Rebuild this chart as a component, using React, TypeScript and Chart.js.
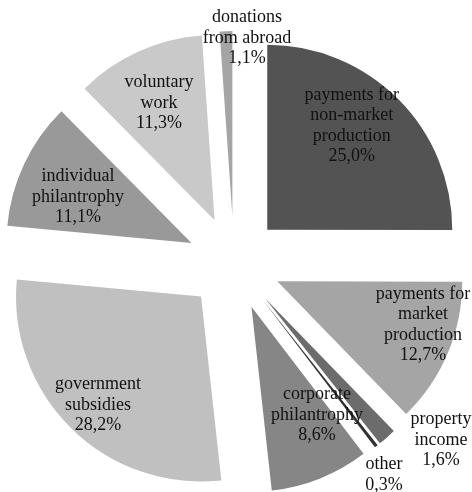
import React, { useEffect, useRef } from "react";
import { Chart, registerables } from "chart.js";

Chart.register(...registerables);

const categories: string[] = [
  "payments for\nnon-market\nproduction",
  "payments for\nmarket\nproduction",
  "property\nincome",
  "other",
  "corporate\nphilantrophy",
  "government\nsubsidies",
  "individual\nphilantrophy",
  "voluntary\nwork",
  "donations\nfrom abroad",
];
const shares: number[] = [25.0, 12.7, 1.6, 0.3, 8.6, 28.2, 11.1, 11.3, 1.1];
const sliceColors: string[] = [
  "#535353",
  "#a5a5a5",
  "#6c6c6c",
  "#333333",
  "#868686",
  "#c0c0c0",
  "#999999",
  "#c9c9c9",
  "#a5a5a5",
];
// label placement: angular shift from slice middle (deg, clockwise) and distance (fraction of radius) from the slice tip
const labelShift: number[] = [-5.9, -6.3, -9.9, 3.1, -9.3, -1.0, -3.3, -1.1, 6.7];
const labelDist: number[] = [0.724, 0.822, 1.222, 1.15, 0.685, 0.809, 0.662, 0.701, 0.965];

const EXPLODE = 47;
const FONT_SIZE = 18;
const LINE_H = 20.5;

const explodePlugin = {
  id: "explodeSlices",
  beforeDatasetDraw(chart: any, args: any) {
    const ctx = chart.ctx;
    args.meta.data.forEach((arc: any) => {
      const mid = (arc.startAngle + arc.endAngle) / 2;
      ctx.save();
      ctx.translate(Math.cos(mid) * EXPLODE, Math.sin(mid) * EXPLODE);
      arc.draw(ctx, chart.chartArea);
      ctx.restore();
    });
    return false;
  },
  afterDatasetsDraw(chart: any) {
    const ctx = chart.ctx;
    const meta = chart.getDatasetMeta(0);
    ctx.save();
    ctx.font = `${FONT_SIZE}px "Liberation Serif", "Times New Roman", serif`;
    ctx.fillStyle = "#111111";
    ctx.textAlign = "center";
    ctx.textBaseline = "middle";
    meta.data.forEach((arc: any, i: number) => {
      const { x, y, startAngle, endAngle, outerRadius } = arc;
      const mid = (startAngle + endAngle) / 2;
      const tx = x + Math.cos(mid) * EXPLODE;
      const ty = y + Math.sin(mid) * EXPLODE;
      const a = mid + (labelShift[i] * Math.PI) / 180;
      const r = labelDist[i] * outerRadius;
      const cx = tx + Math.cos(a) * r;
      const cy = ty + Math.sin(a) * r;
      const lines = [
        ...categories[i].split("\n"),
        shares[i].toFixed(1).replace(".", ",") + "%",
      ];
      const top = cy - ((lines.length - 1) * LINE_H) / 2;
      lines.forEach((ln, k) => ctx.fillText(ln, cx, top + k * LINE_H));
    });
    ctx.restore();
  },
};

export default function App() {
  const ref = useRef<HTMLCanvasElement | null>(null);
  useEffect(() => {
    if (!ref.current) return;
    const chart = new Chart(ref.current, {
      type: "pie",
      data: {
        labels: categories.map((c) => c.replace(/\n/g, " ")),
        datasets: [
          {
            data: shares,
            backgroundColor: sliceColors,
            borderWidth: 0,
            offset: 0,
          },
        ],
      },
      options: {
        animation: false,
        responsive: false,
        devicePixelRatio: 1,
        radius: 185,
        layout: { padding: { top: 34, left: 0, right: 4, bottom: 0 } },
        plugins: {
          legend: { display: false },
          tooltip: { enabled: false },
        },
      } as any,
      plugins: [explodePlugin],
    });
    return () => chart.destroy();
  }, []);
  return (
    <div style={{ position: "fixed", left: 0, top: 0, width: 472, height: 492, background: "#fff" }}>
      <canvas ref={ref} width={472} height={492} style={{ width: 472, height: 492, display: "block" }} />
    </div>
  );
}
